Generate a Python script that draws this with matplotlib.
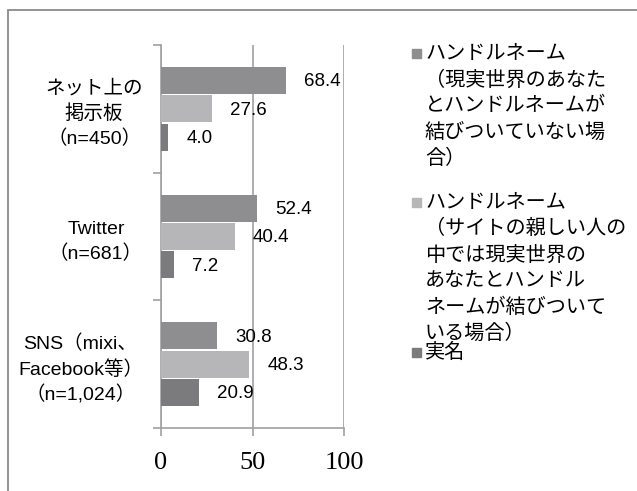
import matplotlib
matplotlib.use('Agg')
import matplotlib.pyplot as plt
from matplotlib.patches import Rectangle
import numpy as np

# data
categories = ['ネット上の\n掲示板\n（n=450）',
              'Twitter\n（n=681）',
              'SNS（mixi、\nFacebook等）\n（n=1,024）']
series_names = ['ハンドルネーム\n（現実世界のあなた\nとハンドルネームが\n結びついていない場\n合）',
                'ハンドルネーム\n（サイトの親しい人の\n中では現実世界の\nあなたとハンドル\nネームが結びついて\nいる場合）',
                '実名']
handle_unlinked = [68.4, 52.4, 30.8]
handle_linked = [27.6, 40.4, 48.3]
real_name = [4.0, 7.2, 20.9]
x_ticks = [0, 50, 100]

colors = ['#8e8e90', '#b6b6b8', '#7b7b7d']
axis_gray = '#a0a0a2'
jp = ['Liberation Sans', 'Noto Sans CJK JP']

fig = plt.figure(figsize=(6.37, 4.91), dpi=100)
ax = fig.add_axes([161/637, 1 - 428/491, 183/637, 383/491])

# outer frame of the chart area
fig.patches.append(Rectangle((8/637, -0.05), 1.0, 1 - 10/491 + 0.05,
                             transform=fig.transFigure, fill=False,
                             edgecolor='#8a8a8a', linewidth=1.3))

y = np.arange(len(categories))
step = 0.222
values = [handle_unlinked, handle_linked, real_name]
for i, vals in enumerate(values):
    pos = y + (i - 1) * step
    ax.barh(pos, vals, height=step - 0.01, color=colors[i], zorder=3)
    for p, v in zip(pos, vals):
        ax.annotate('%.1f' % v, (v, p), xytext=(13, -1), textcoords='offset points',
                    ha='left', va='center', fontsize=13.5, family=jp, zorder=4)

ax.set_xlim(0, 100)
ax.set_ylim(2.5, -0.5)
ax.set_xticks(x_ticks)
ax.set_xticklabels([str(t) for t in x_ticks], family='Liberation Serif', fontsize=19)
ax.tick_params(axis='x', length=6, width=1.2, color=axis_gray, pad=11, direction='out')

ax.set_yticks(y)
ax.set_yticklabels(categories, family=jp, fontsize=14, linespacing=1.45,
                   multialignment='center')
ax.tick_params(axis='y', which='major', length=0, pad=13)
ax.set_yticks([-0.5, 0.5, 1.5, 2.5], minor=True)
ax.tick_params(axis='y', which='minor', length=6, width=1.2, color=axis_gray,
               direction='out')

ax.grid(axis='x', color=axis_gray, linewidth=1.2, zorder=0)
for s in ['top', 'right']:
    ax.spines[s].set_visible(False)
for s in ['left', 'bottom']:
    ax.spines[s].set_color(axis_gray)
    ax.spines[s].set_linewidth(1.2)

# legend drawn by hand to keep the original wrapping
legend_tops = [44, 193, 343]
for name, c, top in zip(series_names, colors, legend_tops):
    fig.patches.append(Rectangle((412/637, 1 - (top + 14)/491), 9/637, 9/491,
                                 transform=fig.transFigure, color=c))
    fig.text(425/637, 1 - top/491, name, ha='left', va='top', fontsize=14.5,
             family=jp, linespacing=1.46)

fig.savefig('out.png', dpi=100)
